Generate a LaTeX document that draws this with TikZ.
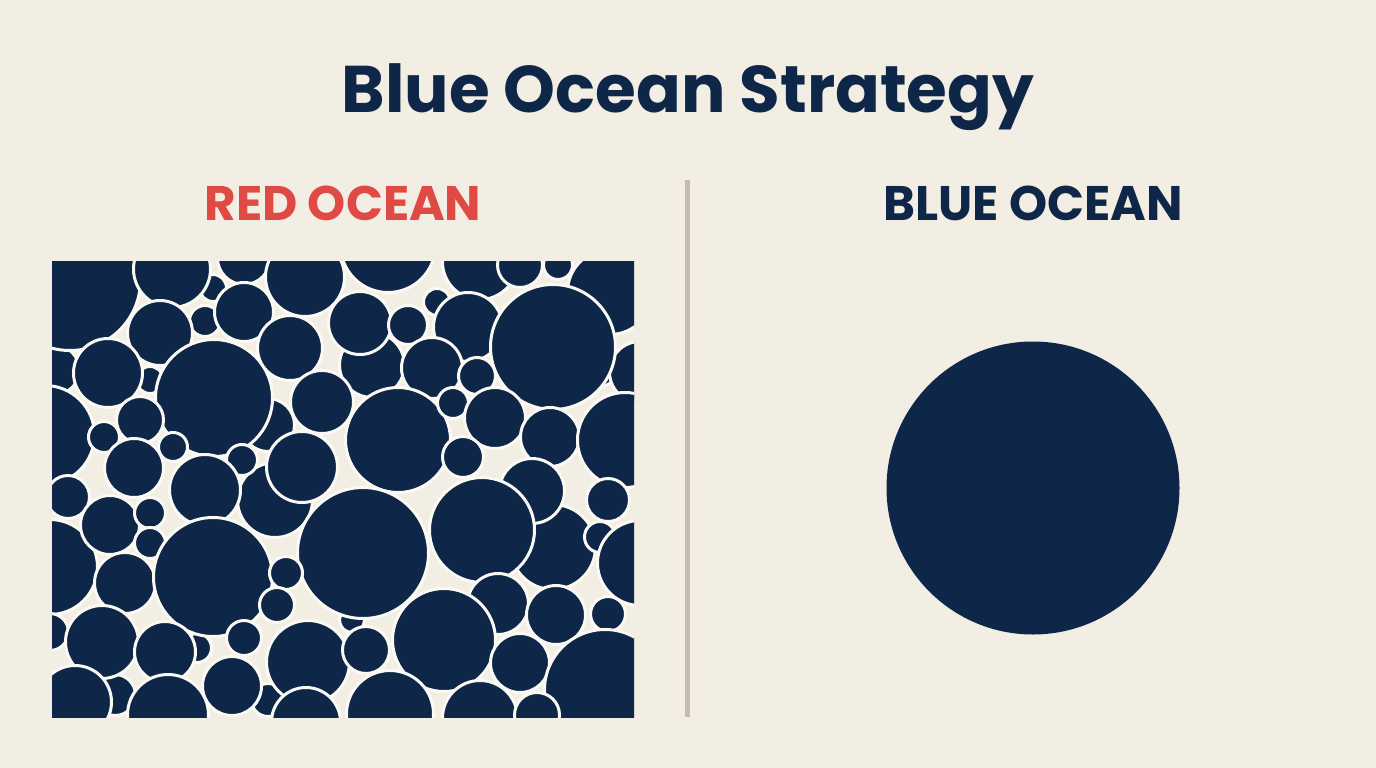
\documentclass[tikz,border=0pt]{standalone}
\usepackage{fontspec}
\setmainfont{Poppins}
\definecolor{bg}{HTML}{F3EEE3}
\definecolor{navy}{HTML}{0E2647}
\definecolor{redo}{HTML}{E04A45}
\definecolor{divc}{HTML}{C9BBA8}
\definecolor{rim}{HTML}{FBF9F4}
\tikzset{
  bub/.style={fill=navy, draw=rim, line width=3pt},
  ttl/.style={font=\bfseries\fontsize{66}{76}\selectfont, text=navy, anchor=base, inner sep=0pt},
  hdr/.style={font=\bfseries\fontsize{48.5}{56}\selectfont, anchor=base, inner sep=0pt},
}
\newcommand{\bb}[3]{\path[bub] (#1,#2) circle[radius=#3+2.5];}
\begin{document}
\begin{tikzpicture}[x=1pt,y=-1pt]
\fill[bg] (0,0) rectangle (1376,768);
\useasboundingbox (0,0) rectangle (1376,768);
\node[ttl] (title) at (688,112) {Blue Ocean Strategy};
\node[hdr, text=redo] (red) at (343,220) {RED OCEAN};
\node[hdr, text=navy] (blue) at (1033,220) {BLUE OCEAN};
\coordinate (dtop) at (687,180);
\coordinate (dbot) at (687,717);
\draw[divc, line width=5pt] (dtop) -- (dbot);
\begin{scope}
\clip (52,261) rectangle (634,717);
\fill[navy] (52,261) rectangle (634,717);
\fill[bg] (52,261) rectangle (634,717);
% behind circles
\bb{55}{370}{22}
\bb{150}{380}{11}
\bb{268}{425}{24}
\bb{372}{365}{30}
\bb{600}{370}{14}
\bb{640}{372}{28}
\bb{275}{500}{35}
\bb{553}{547}{40}
\bb{600}{537}{13}
\bb{115}{695}{18}
\bb{352}{620}{10}
\bb{197}{648}{12}
\bb{268}{700}{14}
\bb{610}{292}{40}
\bb{213}{288}{11}
% main circles
\bb{70}{280}{68}
\bb{172}{269}{36}
\bb{244}{258}{24}
\bb{205}{321}{13}
\bb{244}{312}{27}
\bb{305}{277}{37}
\bb{160}{333}{30}
\bb{108}{373}{32}
\bb{214}{398}{56}
\bb{290}{348}{30}
\bb{360}{323}{29}
\bb{45}{435}{47}
\bb{104}{437}{13}
\bb{140}{420}{21}
\bb{134}{468}{27}
\bb{173}{447}{12}
\bb{242}{460}{13}
\bb{302}{467}{33}
\bb{322}{402}{29}
\bb{205}{490}{33}
\bb{388}{245}{45}
\bb{480}{262}{35}
\bb{520}{265}{20}
\bb{558}{265}{12}
\bb{408}{325}{17}
\bb{437}{302}{11}
\bb{468}{327}{32}
\bb{553}{347}{60}
\bb{432}{368}{28}
\bb{477}{376}{16}
\bb{398}{440}{50}
\bb{453}{403}{13}
\bb{495}{418}{28}
\bb{550}{437}{27}
\bb{625}{440}{45}
\bb{463}{457}{18}
\bb{532}{491}{30}
\bb{68}{497}{19}
\bb{50}{567}{45}
\bb{110}{525}{27}
\bb{125}{583}{28}
\bb{150}{513}{13}
\bb{150}{543}{13}
\bb{213}{577}{57}
\bb{363}{553}{63}
\bb{286}{573}{14}
\bb{277}{605}{15}
\bb{50}{632}{16}
\bb{102}{642}{34}
\bb{165}{652}{28}
\bb{75}{702}{34}
\bb{168}{715}{38}
\bb{232}{686}{27}
\bb{244}{638}{15}
\bb{308}{662}{39}
\bb{306}{722}{32}
\bb{482}{530}{50}
\bb{608}{500}{19}
\bb{640}{563}{40}
\bb{498}{604}{28}
\bb{556}{615}{27}
\bb{608}{614}{15}
\bb{444}{640}{49}
\bb{366}{650}{21}
\bb{520}{663}{27}
\bb{605}{690}{58}
\bb{390}{714}{41}
\bb{480}{718}{35}
\bb{537}{715}{20}
\end{scope}
\node[circle, fill=navy, minimum size=293pt, inner sep=0pt] (big) at (1033,488) {};
\end{tikzpicture}
\end{document}
